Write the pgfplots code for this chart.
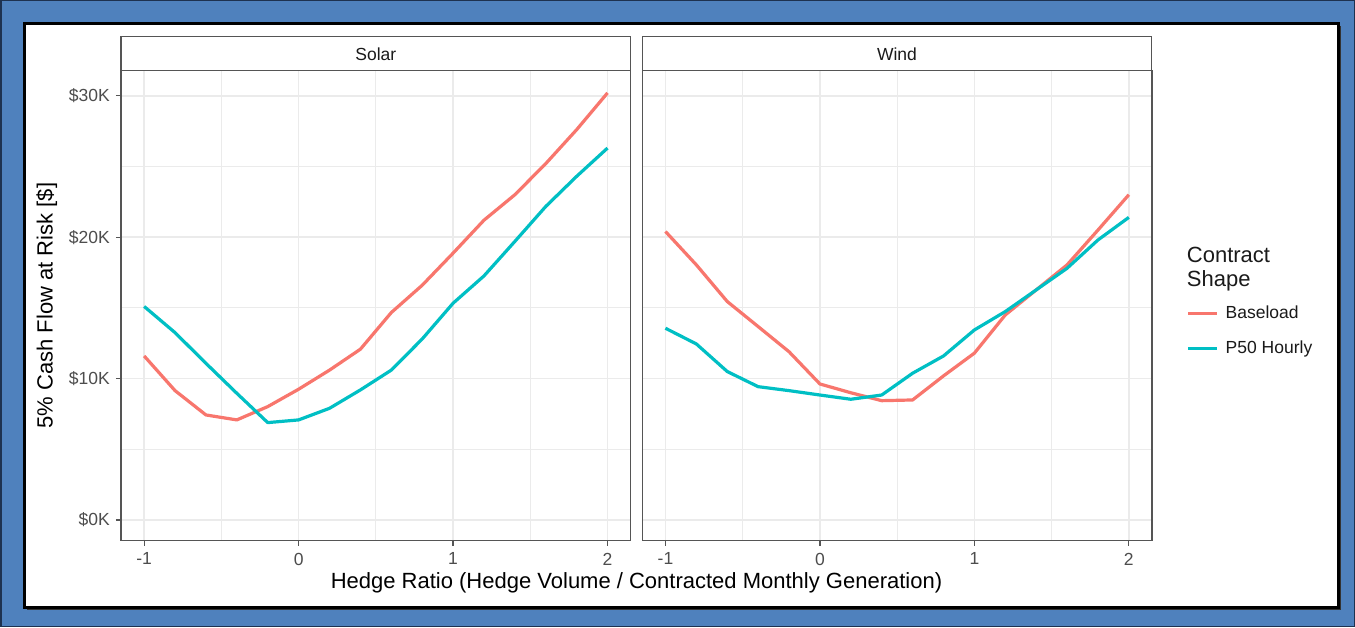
\documentclass[border=0pt]{standalone}
\usepackage{pgfplots}
\usepackage{pgfplotstable}
\pgfplotsset{compat=1.18}
\usepackage{fontspec}
\setmainfont{Liberation Sans}
\definecolor{frameblue}{RGB}{79,129,189}
\definecolor{framedark}{RGB}{30,50,80}
\definecolor{ggred}{HTML}{F8766D}
\definecolor{ggteal}{HTML}{00BFC4}
\definecolor{ggrid}{HTML}{EBEBEB}
\definecolor{g20}{HTML}{555555}
\definecolor{g30}{HTML}{4D4D4D}
\definecolor{g10}{HTML}{1A1A1A}

\pgfplotstableread{
h sB sP wB wP
-1.0 11.6 15.1 20.4 13.56
-0.8 9.15 13.25 18.04 12.45
-0.6 7.43 11.08 15.45 10.5
-0.4 7.08 8.96 13.68 9.43
-0.2 8.02 6.89 11.9 9.15
0.0 9.25 7.08 9.62 8.84
0.2 10.6 7.9 9.0 8.54
0.4 12.08 9.2 8.44 8.84
0.6 14.67 10.6 8.49 10.38
0.8 16.6 12.8 10.19 11.6
1.0 18.87 15.33 11.8 13.44
1.2 21.2 17.26 14.5 14.74
1.4 23.0 19.7 16.27 16.27
1.6 25.2 22.17 18.04 17.8
1.8 27.6 24.3 20.5 19.8
2.0 30.2 26.3 23.0 21.4
}\data

\newcommand{\ticksize}{\fontsize{17.5}{20}\selectfont}
\newcommand{\titlesize}{\fontsize{22}{24}\selectfont}

\pgfplotsset{panel/.style={
  scale only axis, width=509.7pt, height=470pt,
  xmin=-1.15, xmax=2.15, ymin=-1.46, ymax=31.77,
  xtick={-1,0,1,2}, minor xtick={-0.5,0.5,1.5},
  ytick={0,10,20,30}, minor ytick={5,15,25},
  xticklabels={-1,0,1,2},
  xtick pos=lower, ytick pos=left,
  grid=both,
  major grid style={ggrid, line width=1.6pt},
  minor grid style={ggrid, line width=0.8pt},
  axis line style={g20, line width=1.3pt},
  tick style={g20, line width=1.3pt},
  tick align=outside, major tick length=5pt, minor tick length=0pt,
  xticklabel style={font=\ticksize, text=g30, inner sep=0pt, anchor=north},
  yticklabel style={font=\ticksize, text=g30, inner sep=0pt, anchor=east},
  xticklabel shift=7pt, yticklabel shift=6pt,
  every axis plot/.append style={line width=3.2pt, line join=round},
}}

\begin{document}
\begin{tikzpicture}[x=1pt,y=1pt]
\path[use as bounding box] (0,0) rectangle (1355,627);
\fill[frameblue] (0,0) rectangle (1355,627);
\draw[framedark, line width=1.5pt] (0.75,0.75) rectangle (1354.25,626.25);
\fill[black!80] (27,17.5) rectangle (1340.5,601);
\filldraw[fill=white, draw=black, line width=3pt] (24.5,19.5) rectangle (1338,603);

% Solar panel
\begin{axis}[panel, at={(121pt,86.3pt)}, anchor=south west,
  yticklabels={\$0K,\$10K,\$20K,\$30K}]
\addplot[ggred] table[x=h, y=sB] {\data};
\addplot[ggteal] table[x=h, y=sP] {\data};
\end{axis}

% Wind panel
\begin{axis}[panel, at={(642.3pt,86.3pt)}, anchor=south west,
  yticklabels={}, ytick style={draw=none},
  legend style={at={(1.0673,0.446)}, anchor=west, draw=none, fill=none,
    inner sep=0pt, row sep=18.5pt, font=\ticksize, text=g10,
    nodes={inner sep=0pt, text height=12.8pt, text depth=3.7pt}},
  legend cell align=left,
  legend image code/.code={\draw[#1, line width=3.2pt] (0pt,0pt) -- (29pt,0pt);}]
\addplot[ggred] table[x=h, y=wB] {\data};
\addlegendentry{\hspace{7pt}Baseload}
\addplot[ggteal] table[x=h, y=wP] {\data};
\addlegendentry{\hspace{7pt}P50 Hourly}
\end{axis}

% strips
\filldraw[fill=white, draw=g20, line width=1.3pt] (121,556.3) rectangle (630.7,590.3);
\filldraw[fill=white, draw=g20, line width=1.3pt] (642.3,556.3) rectangle (1151.7,590.3);
\node[anchor=base, font=\ticksize, text=g10, inner sep=0pt] at (375.85,566.3) {Solar};
\node[anchor=base, font=\ticksize, text=g10, inner sep=0pt] at (897,566.3) {Wind};

% axis titles
\node[anchor=base, font=\titlesize, text=black, inner sep=0pt] at (636.5,39) {Hedge Ratio (Hedge Volume / Contracted Monthly Generation)};
\node[anchor=base, rotate=90, font=\titlesize, text=black, inner sep=0pt] at (52.5,321.3) {5\% Cash Flow at Risk [\$]};

% legend title
\node[anchor=base west, font=\titlesize, text=g10, inner sep=0pt] at (1186.7,364) {Contract};
\node[anchor=base west, font=\titlesize, text=g10, inner sep=0pt] at (1186.7,340) {Shape};
\end{tikzpicture}
\end{document}
